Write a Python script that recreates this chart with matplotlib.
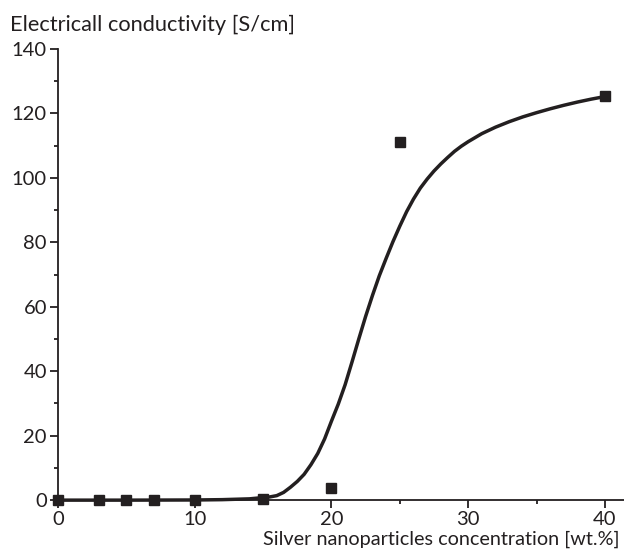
import matplotlib.pyplot as plt
from matplotlib.ticker import MultipleLocator

# measured points
conc = [0, 3, 5, 7, 10, 15, 20, 25, 40]
sigma = [0, 0, 0, 0, 0, 0.3, 3.9, 111.2, 125.3]

# fitted curve
fit_x = [0, 5, 10, 12, 14, 15, 15.5, 16, 16.5, 17, 17.5, 18, 18.5, 19, 19.5,
         20, 20.5, 21, 21.5, 22, 22.5, 23, 23.5, 24, 24.5, 25, 25.5, 26,
         26.5, 27, 27.5, 28, 28.5, 29, 29.5, 30, 31, 32, 33, 34, 35, 36, 37,
         38, 39, 40]
fit_y = [0, 0, 0.05, 0.15, 0.4, 0.8, 1.0, 1.4, 2.4, 4, 5.8, 8, 11, 14.5, 19,
         24.5, 29.8, 35.8, 42.8, 50, 57, 63.5, 69.6, 75, 80.2, 85, 89.5, 93.4,
         96.8, 99.6, 102.1, 104.3, 106.3, 108.2, 109.8, 111.2, 113.7, 115.7,
         117.4, 118.9, 120.2, 121.4, 122.5, 123.5, 124.4, 125.2]

ink = '#231f20'
plt.rcParams['font.family'] = ['Lato', 'DejaVu Sans']

fig = plt.figure(figsize=(6.24, 5.49), dpi=100)
ax = fig.add_axes([0.093, 0.089, 0.907, 0.822])

ax.plot(fit_x, fit_y, color=ink, lw=2.5, solid_capstyle='round',
        solid_joinstyle='round', clip_on=False)
ax.plot(conc, sigma, 's', color=ink, ms=7, clip_on=False, zorder=5)

ax.set_xlim(0, 41.4)
ax.set_ylim(0, 140)
ax.xaxis.set_major_locator(MultipleLocator(10))
ax.xaxis.set_minor_locator(MultipleLocator(5))
ax.yaxis.set_major_locator(MultipleLocator(20))
ax.yaxis.set_minor_locator(MultipleLocator(10))

for s in ['top', 'right']:
    ax.spines[s].set_visible(False)
for s in ['left', 'bottom']:
    ax.spines[s].set_linewidth(1.3)
    ax.spines[s].set_color(ink)

ax.tick_params(which='major', direction='out', length=6, width=1.3,
               color=ink, labelsize=14.5, labelcolor=ink, pad=2)
ax.tick_params(which='minor', direction='out', length=3, width=1.3, color=ink)

fig.text(0.016, 0.955, 'Electricall conductivity [S/cm]', fontsize=15.7,
         color=ink, ha='left', va='center')
fig.text(0.993, 0.018, 'Silver nanoparticles concentration [wt.%]',
         fontsize=14.3, color=ink, ha='right', va='center')

fig.savefig('out.png', dpi=100)
